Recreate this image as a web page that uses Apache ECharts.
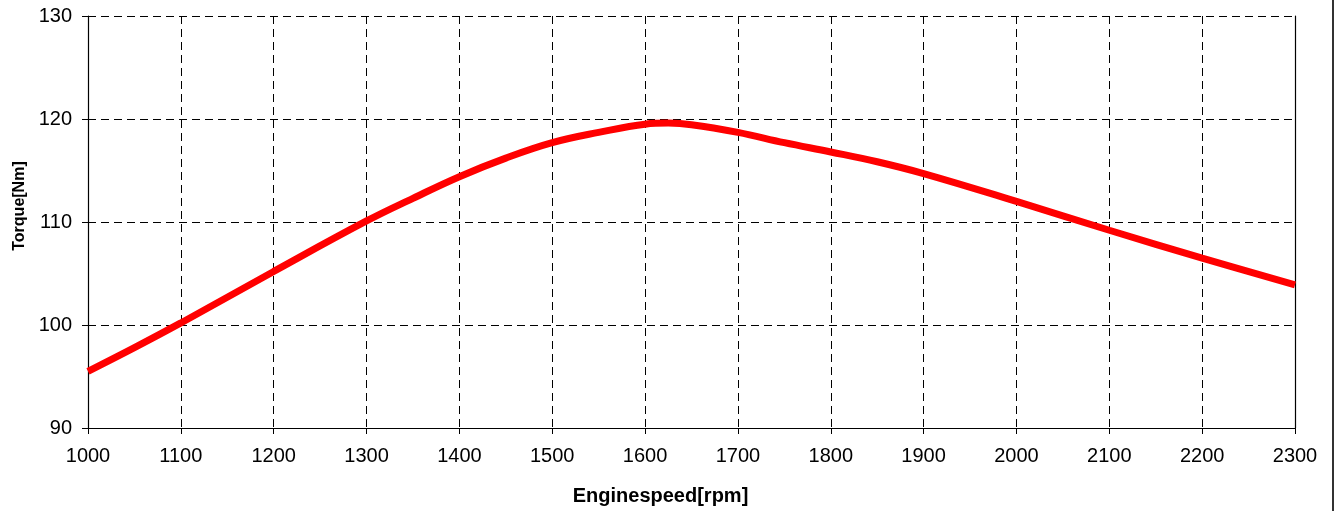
<!DOCTYPE html>
<html>
<head>
<meta charset="utf-8">
<script src="https://cdn.jsdelivr.net/npm/echarts@6/dist/echarts.min.js"></script>
<style>
html,body{margin:0;padding:0;background:#fff;}
#c{width:1336px;height:511px;}
</style>
</head>
<body>
<div id="c"></div>
<script>
// Data
const speedRpm = [1000, 1050, 1100, 1200, 1300, 1350, 1400, 1450, 1500, 1550, 1600, 1625, 1650, 1700, 1750, 1800, 1850, 1900, 2000, 2100, 2200, 2300];
const torqueNm = [95.5, 97.8, 100.2, 105.2, 110.1, 112.3, 114.4, 116.2, 117.7, 118.7, 119.5, 119.6, 119.45, 118.7, 117.7, 116.8, 115.85, 114.7, 112.0, 109.2, 106.5, 103.9];
const xAxisName = 'Enginespeed[rpm]';
const yAxisName = 'Torque[Nm]';

const font = 'Arial, "Liberation Sans", sans-serif';
const chart = echarts.init(document.getElementById('c'));
chart.setOption({
  animation: false,
  backgroundColor: '#fff',
  grid: { left: 88, right: 41, top: 16, bottom: 83, containLabel: false },
  xAxis: {
    type: 'value', min: 1000, max: 2300, interval: 100,
    name: xAxisName, nameLocation: 'middle', nameGap: 58,
    nameTextStyle: { fontFamily: font, fontSize: 20, fontWeight: 'bold', color: '#000', padding: [0, 62, 0, 0] },
    axisLine: { show: true, onZero: false, lineStyle: { color: '#000', width: 1.2 } },
    axisTick: { show: true, inside: false, length: 6, lineStyle: { color: '#000' } },
    axisLabel: { fontFamily: font, fontSize: 20, color: '#000', margin: 18, formatter: v => String(v) },
    splitLine: { show: true, lineStyle: { color: '#000', type: [8, 5], width: 1 } }
  },
  yAxis: [{
    type: 'value', min: 90, max: 130, interval: 10,
    name: yAxisName, nameLocation: 'middle', nameGap: 60, nameRotate: 90,
    nameTextStyle: { fontFamily: font, fontSize: 16, fontWeight: 'bold', color: '#000', padding: [0, 0, 0, 32] },
    axisLine: { show: true, lineStyle: { color: '#000', width: 1.2 } },
    axisTick: { show: true, inside: false, length: 6, lineStyle: { color: '#000' } },
    axisLabel: { fontFamily: font, fontSize: 20, color: '#000', margin: 16, formatter: v => String(v) },
    splitLine: { show: true, lineStyle: { color: '#000', type: [8, 5], width: 1 } }
  }, {
    type: 'value', min: 90, max: 130, interval: 10, position: 'right',
    axisLine: { show: true, lineStyle: { color: '#000', width: 1.2 } },
    axisTick: { show: false }, axisLabel: { show: false }, splitLine: { show: false }
  }],
  graphic: [{
    type: 'line', z: 100,
    shape: { x1: 1333, y1: 0, x2: 1333, y2: 511 },
    style: { stroke: '#333', lineWidth: 2 }
  }],
  series: [{
    type: 'line',
    data: speedRpm.map((s, i) => [s, torqueNm[i]]),
    smooth: 0.4,
    showSymbol: false,
    lineStyle: { color: '#ff0000', width: 7 },
    itemStyle: { color: '#ff0000' },
    z: 10
  }]
});
</script>
</body>
</html>
